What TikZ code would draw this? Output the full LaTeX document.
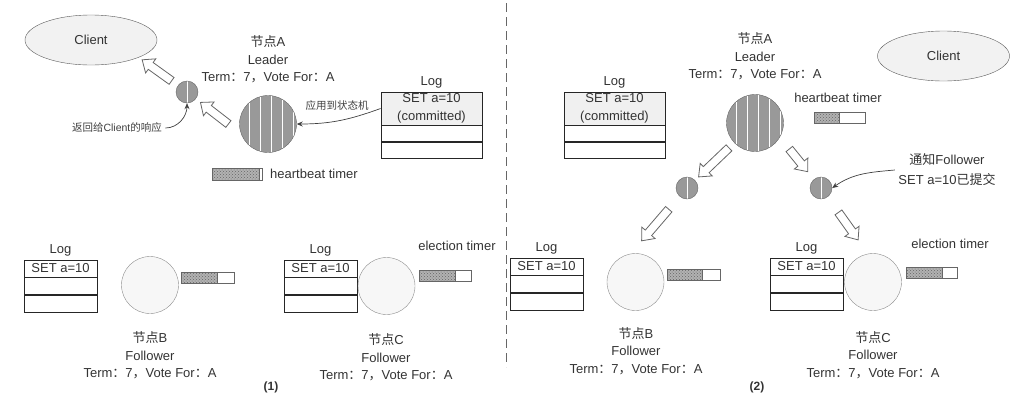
\documentclass[tikz,border=0pt]{standalone}
\usepackage{fontspec}
\setmainfont{Liberation Sans}
\newfontfamily\cjk{Noto Sans CJK SC}
\newcommand\zh[1]{{\cjk #1}}
\usetikzlibrary{positioning,calc,shapes.geometric,patterns,arrows.meta}

\tikzset{
  txt/.style={text=black!80, font=\fontsize{13}{17.5}\selectfont, align=center},
  small/.style={text=black!75, font=\fontsize{10.5}{12}\selectfont},
  leader/.style={circle, draw=black!60, fill=black!40, minimum size=57pt, inner sep=0pt,
    path picture={\foreach \dx in {-19,-8,3,14,25}
      \draw[white, line width=1pt] ([xshift=\dx pt]path picture bounding box.north) -- ([xshift=\dx pt]path picture bounding box.south);}},
  msg/.style={circle, draw=black!60, fill=black!40, minimum size=22pt, inner sep=0pt,
    path picture={\draw[white, line width=1pt] (path picture bounding box.north) -- (path picture bounding box.south);}},
  follower/.style={circle, draw=black!45, fill=black!3, minimum size=57pt, inner sep=0pt},
  client/.style={ellipse, draw=black!65, fill=black!5, minimum width=132pt, minimum height=50pt, inner sep=0pt, txt},
  logrow/.style={draw=black!85, line width=0.9pt, minimum width=#1, minimum height=16pt, inner sep=0pt, txt},
  timerbar/.style={draw=black!60, fill=white, minimum width=52pt, minimum height=11pt, inner sep=0pt,
    path picture={
      \fill[black!30] (path picture bounding box.south west) rectangle ([xshift=-#1pt]path picture bounding box.north east);
      \fill[pattern=crosshatch dots, pattern color=black!60] (path picture bounding box.south west) rectangle ([xshift=-#1pt]path picture bounding box.north east);
      \draw[black!60] ([xshift=-#1pt]path picture bounding box.north east) -- ([xshift=-#1pt]path picture bounding box.south east);}},
  note arrow/.style={draw=black!75, line width=0.7pt, -{Stealth[length=6pt,width=5pt]}},
  fat arrow/.style 2 args={draw=black!60, fill=white, line width=0.8pt, line join=miter,
    to path={let \p1=(\tikztostart), \p2=(\tikztotarget),
      \n1={atan2(\y2-\y1,\x2-\x1)}, \n2={veclen(\x2-\x1,\y2-\y1)} in
      ([shift={(\p1)},rotate=\n1]#1,-4.2) -- ([shift={(\p1)},rotate=\n1]\n2-#2-10.5,-4.2)
      -- ([shift={(\p1)},rotate=\n1]\n2-#2-10.5,-8.7) -- ([shift={(\p1)},rotate=\n1]\n2-#2,0)
      -- ([shift={(\p1)},rotate=\n1]\n2-#2-10.5,8.7) -- ([shift={(\p1)},rotate=\n1]\n2-#2-10.5,4.2)
      -- ([shift={(\p1)},rotate=\n1]#1,4.2) -- cycle}}
}

\begin{document}
\begin{tikzpicture}[x=1pt, y=1pt]
\useasboundingbox (0,0) rectangle (1034,-413);

% (1)
\node[client] (client1) at (91,-40) {Client};
\node[msg] (resp1) at (187,-92) {};
\node[leader] (lead1) at (268,-124) {};
\node[txt] (infoA1) at (268,-59.5) {\zh{节点}A\\Leader\\Term\zh{：}7\zh{，}Vote For\zh{：}A};
\node[logrow=101pt, minimum height=33pt, fill=black!6] (logA1) at (431.5,-108.5) {SET a=10\\(committed)};
\node[logrow=101pt, below=0pt of logA1] (logA2) {};
\node[logrow=101pt, below=0pt of logA2] (logA3) {};
\node[txt, above=0pt of logA1] (logA0) {Log};
\node[timerbar=3, minimum width=50pt, minimum height=12pt] (hb1) at (237.5,-174) {};
\node[txt, right=4pt of hb1] (hb1l) {heartbeat timer};
\node[small] (note1) at (117,-128) {\zh{返回给}Client\zh{的响应}};
\node[small] (note2) at (337,-106) {\zh{应用到状态机}};
\draw[note arrow] (note1.east) to[out=0,in=-90] (resp1.south);
\draw[note arrow] (logA1.west) to[out=200,in=0] (lead1.east);
\draw[fat arrow={19}{4}] (resp1) to (client1.-20);
\draw[fat arrow={16}{17}] (lead1.200) to (resp1);

\node[logrow=73pt, minimum height=17pt] (logB1) at (60.5,-268.5) {SET a=10};
\node[logrow=73pt, minimum height=17pt, below=0pt of logB1] (logB2) {};
\node[logrow=73pt, minimum height=17pt, below=0pt of logB2] (logB3) {};
\node[txt, above=0pt of logB1] (logB0) {Log};
\node[follower] (fB1) at (150,-285) {};
\node[timerbar=17, minimum width=53pt] (tB1) at (207.5,-277.5) {};
\node[txt] (infoB1) at (150,-355.5) {\zh{节点}B\\Follower\\Term\zh{：}7\zh{，}Vote For\zh{：}A};

\node[logrow=73pt, minimum height=17pt] (logC1) at (320.5,-268.5) {SET a=10};
\node[logrow=73pt, minimum height=17pt, below=0pt of logC1] (logC2) {};
\node[logrow=73pt, minimum height=17pt, below=0pt of logC2] (logC3) {};
\node[txt, above=0pt of logC1] (logC0) {Log};
\node[follower] (fC1) at (386.5,-286) {};
\node[timerbar=16] (tC1) at (445,-275.5) {};
\node[txt] (tC1l) at (457,-246) {election timer};
\node[txt] (infoC1) at (386,-357.5) {\zh{节点}C\\Follower\\Term\zh{：}7\zh{，}Vote For\zh{：}A};

\node[txt, font=\bfseries\fontsize{12}{14}\selectfont] (cap1) at (271,-387) {(1)};

\draw[black!60, line width=0.8pt, dash pattern=on 9pt off 5pt] (506,-3) -- (506,-367);

% (2)
\node[txt] (infoA2) at (755,-56.5) {\zh{节点}A\\Leader\\Term\zh{：}7\zh{，}Vote For\zh{：}A};
\node[leader] (lead2) at (755,-123) {};
\node[logrow=101pt, minimum height=33pt, fill=black!6] (logP1) at (614.5,-108.5) {SET a=10\\(committed)};
\node[logrow=101pt, below=0pt of logP1] (logP2) {};
\node[logrow=101pt, below=0pt of logP2] (logP3) {};
\node[txt, above=0pt of logP1] (logP0) {Log};
\node[client] (client2) at (943.5,-56) {Client};
\node[txt] (hb2l) at (838,-98) {heartbeat timer};
\node[timerbar=26, minimum width=51pt] (hb2) at (839.5,-118) {};
\node[msg] (resp2a) at (687,-188) {};
\node[msg] (resp2b) at (821,-188) {};
\node[txt, font=\fontsize{13}{20}\selectfont] (note3) at (947,-170) {\zh{通知}Follower\\SET a=10\zh{已提交}};
\draw[note arrow] (note3.west) to[out=185,in=35] (resp2b.east);

\node[logrow=73pt, minimum height=17pt] (logQ1) at (546.5,-266.5) {SET a=10};
\node[logrow=73pt, minimum height=17pt, below=0pt of logQ1] (logQ2) {};
\node[logrow=73pt, minimum height=17pt, below=0pt of logQ2] (logQ3) {};
\node[txt, above=0pt of logQ1] (logQ0) {Log};
\node[follower] (fB2) at (635.5,-282) {};
\node[timerbar=18, minimum width=53pt] (tB2) at (693.5,-274.5) {};
\node[txt] (infoB2) at (636,-351) {\zh{节点}B\\Follower\\Term\zh{：}7\zh{，}Vote For\zh{：}A};

\node[logrow=73pt, minimum height=17pt] (logR1) at (806.5,-266.5) {SET a=10};
\node[logrow=73pt, minimum height=17pt, below=0pt of logR1] (logR2) {};
\node[logrow=73pt, minimum height=17pt, below=0pt of logR2] (logR3) {};
\node[txt, above=0pt of logR1] (logR0) {Log};
\node[follower] (fC2) at (873,-282) {};
\node[timerbar=15, minimum width=51pt] (tC2) at (931.5,-272.5) {};
\node[txt] (tC2l) at (950,-244) {election timer};
\node[txt] (infoC2) at (873,-355) {\zh{节点}C\\Follower\\Term\zh{：}7\zh{，}Vote For\zh{：}A};

\draw[fat arrow={36}{16}] (lead2) to (resp2a);
\draw[fat arrow={15}{21}] (lead2.-30) to (resp2b);
\draw[fat arrow={28}{17}] (resp2a) to (fB2.100);
\draw[fat arrow={30}{17}] (resp2b) to (fC2.100);

\node[txt, font=\bfseries\fontsize{12}{14}\selectfont] (cap2) at (757,-387) {(2)};
\end{tikzpicture}
\end{document}
